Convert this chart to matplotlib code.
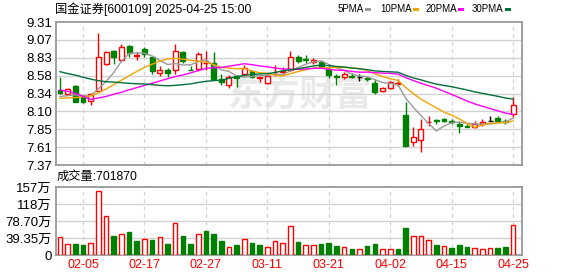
import matplotlib
matplotlib.use('Agg')
import matplotlib.pyplot as plt
from matplotlib.patches import Rectangle

plt.rcParams['font.family'] = ['Liberation Sans', 'Noto Sans CJK SC', 'DejaVu Sans']

# ---------------- data ----------------
dates = ['01-23', '01-24', '01-27', '02-05', '02-06', '02-07', '02-10', '02-11', '02-12', '02-13',
         '02-14', '02-17', '02-18', '02-19', '02-20', '02-21', '02-24', '02-25', '02-26', '02-27',
         '02-28', '03-03', '03-04', '03-05', '03-06', '03-07', '03-10', '03-11', '03-12', '03-13',
         '03-14', '03-17', '03-18', '03-19', '03-20', '03-21', '03-24', '03-25', '03-26', '03-27',
         '03-28', '03-31', '04-01', '04-02', '04-03', '04-07', '04-08', '04-09', '04-10', '04-11',
         '04-14', '04-15', '04-16', '04-17', '04-18', '04-21', '04-22', '04-23', '04-24', '04-25']

opens = [8.39, 8.34, 8.44, 8.29, 8.24, 8.37, 8.74, 8.92, 8.79, 8.98,
         8.855, 8.95, 8.83, 8.62, 8.66, 8.66, 8.90, 8.665, 8.67, 8.75,
         8.75, 8.53, 8.46, 8.58, 8.60, 8.64, 8.555, 8.48, 8.625, 8.635,
         8.66, 8.83, 8.805, 8.765, 8.77, 8.67, 8.575, 8.56, 8.58, 8.56,
         8.545, 8.48, 8.37, 8.41, 8.475, 8.05, 7.685, 7.71, 7.955, 7.975,
         7.995, 7.965, 7.92, 7.895, 7.88, 7.92, 7.97, 8.01, 7.965, 8.06]
highs = [8.56, 8.41, 8.45, 8.31, 8.35, 9.165, 8.92, 8.93, 9.01, 9.00,
         8.90, 8.97, 8.84, 8.71, 8.69, 9.01, 8.91, 8.71, 8.90, 8.91,
         8.90, 8.60, 8.59, 8.59, 8.73, 8.66, 8.57, 8.61, 8.72, 8.70,
         8.91, 8.86, 8.86, 8.82, 8.79, 8.71, 8.60, 8.63, 8.62, 8.60,
         8.56, 8.53, 8.43, 8.51, 8.54, 8.23, 7.89, 8.00, 8.04, 8.00,
         8.01, 7.99, 7.97, 7.92, 7.97, 7.99, 8.04, 8.04, 7.99, 8.29]
lows = [8.34, 8.33, 8.23, 8.21, 8.19, 8.37, 8.72, 8.74, 8.78, 8.83,
        8.79, 8.84, 8.60, 8.58, 8.56, 8.60, 8.75, 8.66, 8.65, 8.66,
        8.52, 8.45, 8.42, 8.43, 8.58, 8.55, 8.50, 8.47, 8.58, 8.61,
        8.65, 8.75, 8.75, 8.74, 8.69, 8.55, 8.46, 8.53, 8.55, 8.51,
        8.51, 8.34, 8.36, 8.40, 8.44, 7.63, 7.63, 7.54, 7.90, 7.92,
        7.96, 7.92, 7.80, 7.89, 7.87, 7.90, 7.97, 7.95, 7.92, 8.02]
closes = [8.35, 8.40, 8.23, 8.22, 8.34, 8.83, 8.90, 8.83, 8.975, 8.885,
          8.86, 8.88, 8.65, 8.66, 8.62, 8.92, 8.785, 8.66, 8.87, 8.755,
          8.53, 8.49, 8.56, 8.55, 8.68, 8.57, 8.56, 8.58, 8.63, 8.64,
          8.83, 8.785, 8.80, 8.795, 8.70, 8.59, 8.57, 8.605, 8.56, 8.56,
          8.54, 8.365, 8.42, 8.49, 8.48, 7.63, 7.745, 7.855, 7.96, 7.97,
          7.965, 7.96, 7.90, 7.89, 7.92, 7.95, 7.97, 7.97, 7.96, 8.19]
candle_dir = ['d', 'u', 'd', 'd', 'u', 'u', 'u', 'd', 'u', 'd',
              'u', 'd', 'd', 'u', 'd', 'u', 'd', 'd', 'u', 'u',
              'd', 'd', 'u', 'd', 'u', 'd', 'u', 'u', 'u', 'u',
              'u', 'd', 'd', 'u', 'd', 'd', 'd', 'u', 'd', 'f',
              'd', 'd', 'u', 'u', 'u', 'd', 'u', 'u', 'u', 'd',
              'd', 'd', 'd', 'd', 'u', 'u', 'f', 'd', 'd', 'u']

ma5 = [8.30, 8.31, 8.32, 8.31, 8.308, 8.404, 8.504, 8.624, 8.775, 8.884,
       8.89, 8.886, 8.85, 8.787, 8.734, 8.746, 8.727, 8.729, 8.771, 8.798,
       8.72, 8.661, 8.641, 8.577, 8.562, 8.57, 8.584, 8.588, 8.604, 8.596,
       8.648, 8.693, 8.737, 8.77, 8.782, 8.734, 8.691, 8.652, 8.605, 8.577,
       8.567, 8.526, 8.489, 8.475, 8.459, 8.277, 8.153, 8.04, 7.934, 7.832,
       7.899, 7.942, 7.951, 7.937, 7.927, 7.924, 7.926, 7.94, 7.954, 8.008]
ma10 = [8.275, 8.28, 8.285, 8.295, 8.306, 8.35, 8.40, 8.46, 8.52, 8.58,
        8.64, 8.695, 8.737, 8.781, 8.809, 8.818, 8.806, 8.790, 8.779, 8.766,
        8.733, 8.694, 8.685, 8.674, 8.68, 8.645, 8.622, 8.614, 8.590, 8.579,
        8.609, 8.638, 8.662, 8.687, 8.689, 8.691, 8.692, 8.694, 8.687, 8.680,
        8.650, 8.608, 8.570, 8.54, 8.518, 8.422, 8.340, 8.264, 8.204, 8.146,
        8.088, 8.047, 7.995, 7.935, 7.880, 7.911, 7.934, 7.945, 7.945, 7.967]
ma20 = [8.387, 8.37, 8.342, 8.30, 8.26, 8.28, 8.30, 8.33, 8.356, 8.39,
        8.42, 8.45, 8.478, 8.51, 8.54, 8.57, 8.59, 8.62, 8.65, 8.681,
        8.69, 8.694, 8.711, 8.727, 8.744, 8.731, 8.714, 8.702, 8.685, 8.672,
        8.671, 8.666, 8.674, 8.680, 8.684, 8.668, 8.657, 8.654, 8.639, 8.629,
        8.630, 8.623, 8.616, 8.613, 8.603, 8.556, 8.516, 8.479, 8.446, 8.412,
        8.369, 8.328, 8.283, 8.238, 8.199, 8.167, 8.137, 8.105, 8.075, 8.056]
ma30 = [8.636, 8.61, 8.59, 8.56, 8.535, 8.514, 8.50, 8.495, 8.487, 8.478,
        8.472, 8.469, 8.46, 8.45, 8.445, 8.45, 8.46, 8.47, 8.49, 8.505,
        8.515, 8.52, 8.545, 8.57, 8.585, 8.60, 8.605, 8.61, 8.625, 8.647,
        8.663, 8.676, 8.695, 8.714, 8.726, 8.718, 8.707, 8.700, 8.686, 8.675,
        8.664, 8.647, 8.639, 8.634, 8.629, 8.586, 8.551, 8.525, 8.494, 8.468,
        8.449, 8.432, 8.410, 8.388, 8.362, 8.342, 8.322, 8.302, 8.279, 8.264]

volumes = [41.0, 24.8, 24.8, 22.5, 28.7, 147.8, 89.8, 43.4, 48.0, 52.7,
           31.8, 36.4, 34.1, 41.0, 24.8, 75.2, 43.4, 24.8, 49.6, 55.0,
           48.0, 31.8, 17.9, 22.5, 38.0, 27.1, 22.5, 17.9, 33.4, 27.1,
           66.6, 29.5, 22.5, 22.5, 24.8, 27.1, 20.2, 17.9, 13.2, 13.2,
           20.2, 24.8, 13.2, 13.2, 13.2, 62.0, 43.4, 43.4, 34.1, 22.5,
           20.2, 16.3, 22.5, 17.9, 15.5, 13.2, 15.5, 15.5, 17.9, 70.19]
vol_dir = ['u', 'u', 'd', 'd', 'u', 'u', 'u', 'd', 'u', 'd',
           'd', 'u', 'd', 'u', 'd', 'u', 'd', 'd', 'u', 'd',
           'd', 'd', 'u', 'd', 'u', 'd', 'd', 'u', 'u', 'u',
           'u', 'd', 'u', 'u', 'd', 'd', 'd', 'u', 'd', 'u',
           'd', 'd', 'u', 'u', 'd', 'd', 'u', 'u', 'u', 'd',
           'u', 'd', 'd', 'd', 'u', 'u', 'u', 'd', 'd', 'u']

price_ticks = [7.37, 7.6125, 7.855, 8.0975, 8.34, 8.5825, 8.825, 9.0675, 9.31]
price_labels = ['7.37', '7.61', '7.85', '8.10', '8.34', '8.58', '8.83', '9.07', '9.31']
vol_ticks = [0, 39.35, 78.70, 118.05, 157.4]
vol_labels = ['0', '39.35万', '78.70万', '118万', '157万']
tick_dates = ['02-05', '02-17', '02-27', '03-11', '03-21', '04-02', '04-15', '04-25']

title = '国金证券[600109] 2025-04-25 15:00'
legend_names = ['5PMA', '10PMA', '20PMA', '30PMA']
vol_title = '成交量:701870'

# ---------------- style ----------------
RED = '#ff0000'
GREEN = '#008000'
MA_COLORS = ['#9a9a9a', '#f5a300', '#ff00ff', '#00703c']
GRID = '#d2d2d2'
SPINE = '#999999'

W, H = 578, 276
fig = plt.figure(figsize=(W / 100, H / 100), dpi=100)
fig.patch.set_facecolor('white')

def fx(px):
    return px / W

def fy(py):
    return 1 - py / H

ax = fig.add_axes([fx(56), fy(165), fx(522) - fx(56), fy(22) - fy(165)])
axv = fig.add_axes([fx(56), fy(255), fx(522) - fx(56), fy(187) - fy(255)])

n = len(closes)
xs = list(range(n))
xlim = (-0.52, 60.16)
tick_idx = [dates.index(d) for d in tick_dates]

for a in (ax, axv):
    a.set_xlim(*xlim)
    a.set_facecolor('white')
    for s in a.spines.values():
        s.set_color(SPINE)
        s.set_linewidth(1.3)
    a.tick_params(axis='both', length=0, labelsize=9.5, pad=3)
    for t in tick_idx:
        a.axvline(t, color=GRID, lw=0.9, ls=(0, (3, 3)), zorder=0.6)

# price panel
ax.set_ylim(price_ticks[0], price_ticks[-1])
ax.set_yticks(price_ticks)
ax.set_yticklabels(price_labels)
ax.set_xticks([])
for t in price_ticks[1:-1]:
    ax.axhline(t, color=GRID, lw=1.0, zorder=0.6)

ax.text(0.525, 0.49, '东方财富', transform=ax.transAxes, ha='center', va='center',
        fontsize=26, color='#e9e9e9', fontweight='bold', style='italic',
        family=['Noto Sans CJK SC'], zorder=0.4)

cw = 0.64
for i in xs:
    o, h, l, c = opens[i], highs[i], lows[i], closes[i]
    d = candle_dir[i]
    col = RED if d == 'u' else (GREEN if d == 'd' else '#000000')
    ax.vlines(i, l, h, color=col, lw=1.0, zorder=3)
    bot = min(o, c)
    hgt = max(abs(c - o), 0.003)
    if d == 'u':
        ax.bar(i, hgt, bottom=bot, width=cw, facecolor='white', edgecolor=col,
               linewidth=1.0, zorder=4)
    else:
        ax.bar(i, hgt, bottom=bot, width=cw, facecolor=col, edgecolor=col,
               linewidth=1.0, zorder=4)

for series, colr in zip([ma5, ma10, ma20, ma30], MA_COLORS):
    ax.plot(xs, series, color=colr, lw=1.0, zorder=5)

# volume panel
axv.set_ylim(vol_ticks[0], vol_ticks[-1])
axv.set_yticks(vol_ticks)
axv.set_yticklabels(vol_labels)
for t in vol_ticks[1:-1]:
    axv.axhline(t, color=GRID, lw=1.0, zorder=0.6)
for i in xs:
    if vol_dir[i] == 'u':
        axv.bar(i, volumes[i], width=0.6, facecolor='white', edgecolor=RED,
                linewidth=1.0, zorder=3)
    else:
        axv.bar(i, volumes[i], width=0.6, facecolor=GREEN, edgecolor=GREEN,
                linewidth=1.0, zorder=3)
axv.set_xticks(tick_idx)
axv.set_xticklabels(tick_dates, color=RED, fontsize=9)
axv.tick_params(axis='x', pad=3)

# texts
fig.text(fx(55), fy(9), title, ha='left', va='center', fontsize=8.8)
fig.text(fx(57), fy(177), vol_title, ha='left', va='center', fontsize=8.8)

leg_x = [338, 380, 426, 472]
sq_x = [365, 413, 458, 505]
for name, lx, sx, colr in zip(legend_names, leg_x, sq_x, MA_COLORS):
    fig.text(fx(lx), fy(9), name, ha='left', va='center', fontsize=7)
    fig.add_artist(Rectangle((fx(sx), fy(11)), fx(6), 3.5 / H,
                             transform=fig.transFigure, facecolor=colr, edgecolor='none'))

fig.savefig('out.png', dpi=100, facecolor='white')
